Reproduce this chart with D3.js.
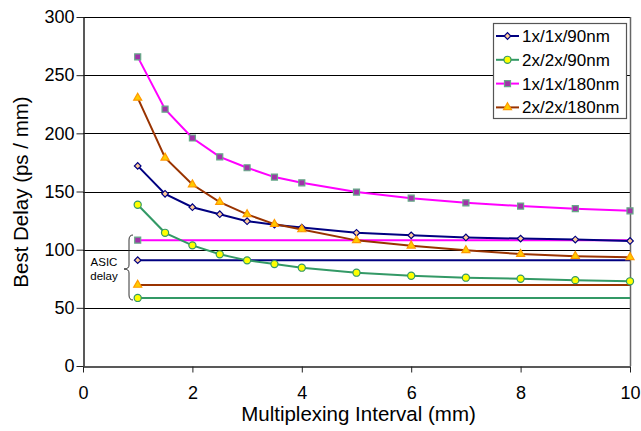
<!DOCTYPE html>
<html lang="en">
<head>
<meta charset="utf-8">
<title>Best Delay vs Multiplexing Interval</title>
<script src="https://cdnjs.cloudflare.com/ajax/libs/d3/7.8.5/d3.min.js"></script>
<style>
  body { margin: 0; background: #fff; }
  svg { font-family: "Liberation Sans", Arial, Helvetica, sans-serif; }
</style>
</head>
<body>
<div class="graph"></div>
<script>
// x positions (mm)
const interval = [1, 1.5, 2, 2.5, 3, 3.5, 4, 5, 6, 7, 8, 9, 10];

// best delay (ps/mm) per configuration
const d1x90  = [172, 148, 136.5, 130.5, 124.5, 121.5, 119, 114.5, 112.3, 110.5, 109.5, 108.7, 107.5];
const d2x90  = [138.6, 114.5, 103.7, 96, 90.8, 87.6, 84.5, 80.2, 77.6, 75.9, 75, 73.8, 72.8];
const d1x180 = [265.7, 220.8, 196, 179.8, 170.4, 162.4, 157.5, 149.5, 144.3, 140.3, 137.5, 135.2, 133.4];
const d2x180 = [230.5, 179, 156, 140.9, 130.3, 122, 117.4, 108, 103.4, 99.4, 96.2, 94.4, 93.5];

// ASIC delay reference levels
const asicDelay = [91, 58.5, 108.2, 69.7];
const asicSpan = [1, 10];

const seriesNames = ["1x/1x/90nm", "2x/2x/90nm", "1x/1x/180nm", "2x/2x/180nm"];
const yTicks = [0, 50, 100, 150, 200, 250, 300];
const xTicks = [0, 2, 4, 6, 8, 10];

const styles = [
  {line: "#000080", fill: "#ffcc99", stroke: "#000080", shape: d3.symbolSquare, size: 22, rot: 45},
  {line: "#339966", fill: "#ffff00", stroke: "#339966", shape: d3.symbolCircle, size: 40, rot: 0},
  {line: "#ff00ff", fill: "#a033a8", stroke: "#66aa88", shape: d3.symbolSquare, size: 36, rot: 0},
  {line: "#993300", fill: "#ffcc00", stroke: "#ff9900", shape: d3.symbolTriangle, size: 28, rot: 0}
];

const allSeries = [d1x90, d2x90, d1x180, d2x180];

const w = 641, h = 431;
const padL = 83, padR = 630, padT = 17, padB = 366;

const svg = d3.select(".graph").append("svg")
  .attr("width", w).attr("height", h);

const xScale = d3.scaleLinear().domain([0, 10]).range([padL, padR]);
const yScale = d3.scaleLinear().domain([0, 300]).range([padB, padT]);

// gridlines
svg.append("g").selectAll("line")
  .data(yTicks.filter(d => d > 0))
  .enter().append("line")
  .attr("x1", padL).attr("x2", padR)
  .attr("y1", d => Math.round(yScale(d)) + 0.5)
  .attr("y2", d => Math.round(yScale(d)) + 0.5)
  .attr("stroke", "#000").attr("stroke-width", 1);

// right border of plot area
svg.append("line")
  .attr("x1", padR + 0.5).attr("x2", padR + 0.5)
  .attr("y1", padT).attr("y2", padB)
  .attr("stroke", "#666").attr("stroke-width", 1.5);

// axes
const yAxis = d3.axisLeft(yScale).tickValues(yTicks).tickSize(7).tickSizeOuter(0);
const gy = svg.append("g")
  .attr("transform", "translate(" + (padL + 0.5) + ",0)")
  .call(yAxis);
gy.selectAll("text").attr("font-size", 18).attr("fill", "#000").attr("x", -9);

const xAxis = d3.axisBottom(xScale).tickValues(xTicks).tickSize(6).tickSizeOuter(0);
const gx = svg.append("g")
  .attr("transform", "translate(0," + (padB + 0.5) + ")")
  .call(xAxis);
gx.selectAll("text").attr("font-size", 18).attr("fill", "#000").attr("y", 26).attr("dy", "0.35em");
[gx, gy].forEach(g => {
  g.select(".domain").attr("stroke", "#222").attr("stroke-width", 1.5);
  g.selectAll(".tick line").attr("stroke", "#222");
  g.attr("font-family", null);
});

// axis titles
svg.append("text")
  .attr("x", (padL + padR) / 2 + 2).attr("y", 421)
  .attr("text-anchor", "middle").attr("font-size", 20.5)
  .text("Multiplexing Interval (mm)");
svg.append("text")
  .attr("transform", "translate(28,192) rotate(-90)")
  .attr("text-anchor", "middle").attr("font-size", 20.5)
  .text("Best Delay (ps / mm)");

const line = d3.line().x(d => xScale(d[0])).y(d => yScale(d[1]));

function marker(g, st, x, y) {
  g.append("path")
    .attr("d", d3.symbol().type(st.shape).size(st.size)())
    .attr("transform", "translate(" + x + "," + y + ") rotate(" + st.rot + ")")
    .attr("fill", st.fill).attr("stroke", st.stroke).attr("stroke-width", 1.2);
}

// ASIC horizontal lines (marker at first point only)
asicDelay.forEach((v, i) => {
  const st = styles[i];
  const g = svg.append("g");
  g.append("path")
    .attr("d", line(asicSpan.map(x => [x, v])))
    .attr("fill", "none").attr("stroke", st.line).attr("stroke-width", 2);
  marker(g, st, xScale(asicSpan[0]), yScale(v));
});

// curves
allSeries.forEach((vals, i) => {
  const st = styles[i];
  const pts = interval.map((x, j) => [x, vals[j]]);
  const g = svg.append("g");
  g.append("path")
    .attr("d", line(pts))
    .attr("fill", "none").attr("stroke", st.line).attr("stroke-width", 2);
  pts.forEach(p => marker(g, st, xScale(p[0]), yScale(p[1])));
});

// ASIC delay brace + label
const bTop = 235, bBot = 300, bMid = 269, bx = 129;
svg.append("path")
  .attr("d", "M" + (bx + 4) + "," + bTop + " Q" + bx + "," + bTop + " " + bx + "," + (bTop + 5) +
    " L" + bx + "," + (bMid - 4) + " Q" + bx + "," + bMid + " " + (bx - 5) + "," + bMid +
    " Q" + bx + "," + bMid + " " + bx + "," + (bMid + 4) +
    " L" + bx + "," + (bBot - 5) + " Q" + bx + "," + bBot + " " + (bx + 4) + "," + bBot)
  .attr("fill", "none").attr("stroke", "#333").attr("stroke-width", 1);
svg.append("text").attr("x", 104).attr("y", 266)
  .attr("text-anchor", "middle").attr("font-size", 11.5).text("ASIC");
svg.append("text").attr("x", 104).attr("y", 280)
  .attr("text-anchor", "middle").attr("font-size", 11.5).text("delay");

// legend
const lg = svg.append("g");
lg.append("rect")
  .attr("x", 493.5).attr("y", 23.5).attr("width", 133).attr("height", 95)
  .attr("fill", "#fff").attr("stroke", "#555").attr("stroke-width", 1.2);
seriesNames.forEach((name, i) => {
  const y = 36 + i * 23.8;
  const st = styles[i];
  lg.append("line")
    .attr("x1", 496).attr("x2", 519).attr("y1", y).attr("y2", y)
    .attr("stroke", st.line).attr("stroke-width", 2);
  marker(lg, st, 507.5, y);
  lg.append("text")
    .attr("x", 522).attr("y", y).attr("dy", "0.35em")
    .attr("font-size", 17).text(name);
});
</script>
</body>
</html>
